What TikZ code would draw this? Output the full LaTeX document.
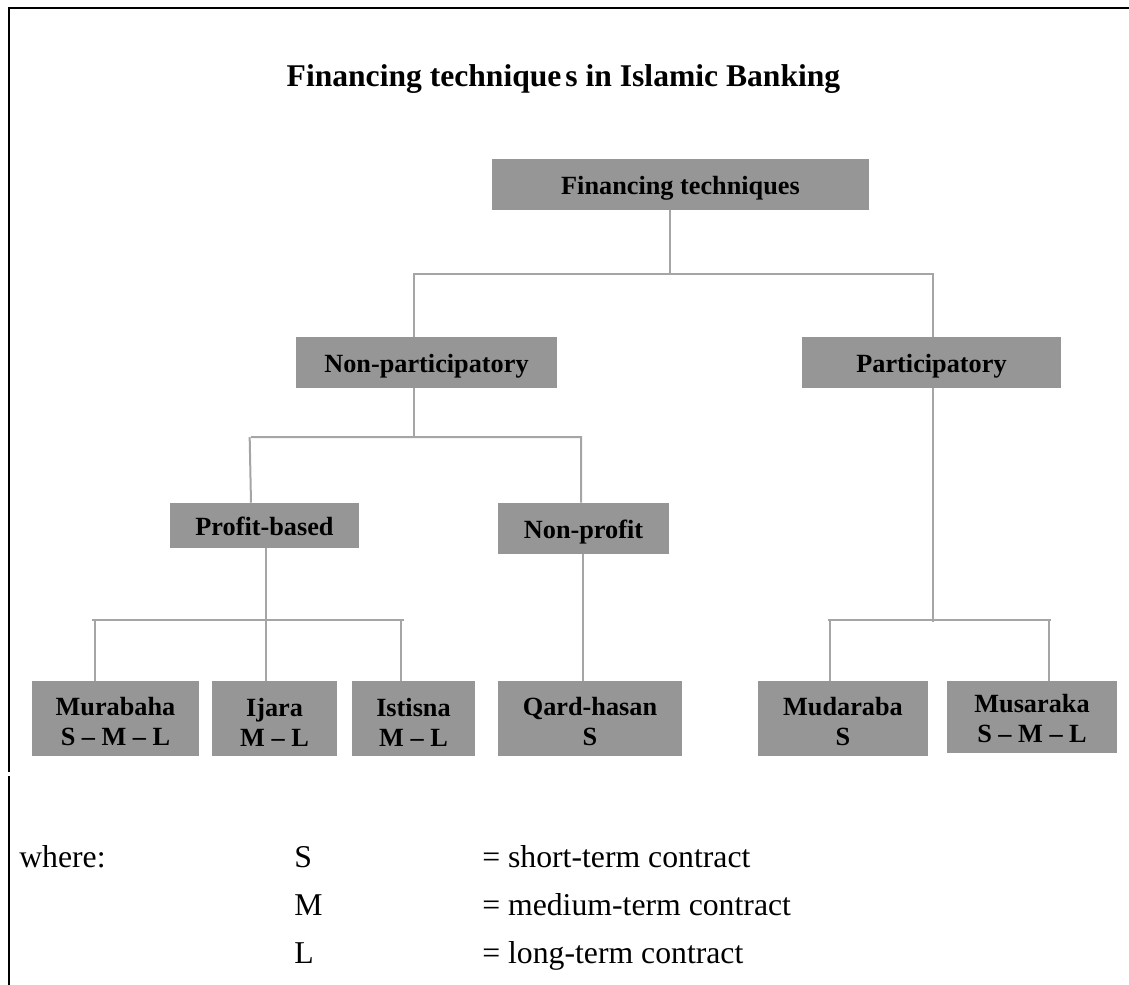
\documentclass[tikz,border=0pt]{standalone}
\usepackage{fontspec}
\setmainfont{Liberation Serif}
\definecolor{boxgray}{RGB}{150,150,150}
\definecolor{linegray}{RGB}{165,165,165}
\tikzset{
  bx/.style 2 args={fill=boxgray, draw=none, inner sep=0pt, minimum width=#1, minimum height=#2},
  conn/.style={draw=linegray, line width=1.5pt},
  lbl/.style={font=\fontsize{19.7pt}{22.5pt}\selectfont\bfseries, inner sep=0pt, text height=13.45pt, text depth=4.27pt},
  lbltwo/.style={font=\fontsize{19.7pt}{22.5pt}\selectfont\bfseries, inner sep=0pt, align=center},
  legend/.style={font=\fontsize{23.8pt}{28pt}\selectfont, inner sep=0pt, anchor=base west},
  frame/.style={draw=black, line width=1.9pt},
}
\begin{document}
\begin{tikzpicture}[x=0.75pt, y=-0.75pt]
\useasboundingbox (0,0) rectangle (1129,985);
% frame
\draw[frame] (9,772) -- (9,8) -- (1129,8);
\draw[frame] (9,776) -- (9,985);
% title
\node[font=\fontsize{23.7pt}{28pt}\selectfont\bfseries, inner sep=0pt, anchor=base] (title) at (563.5,86) {Financing technique\kern3pt s in Islamic Banking};
% boxes
\node[bx={282.75pt}{38.25pt}] (root) at (680.5,184.5) {};
\node[bx={195.75pt}{38.25pt}] (np) at (426.5,362.5) {};
\node[bx={194.25pt}{38.25pt}] (p) at (931.5,362.5) {};
\node[bx={141.75pt}{33.75pt}] (pb) at (264.5,525.5) {};
\node[bx={128.25pt}{38.25pt}] (nonp) at (583.5,528.5) {};
\node[bx={125.25pt}{56.25pt}] (mur) at (115.5,718.5) {};
\node[bx={93.75pt}{56.25pt}] (ija) at (274.5,718.5) {};
\node[bx={92.25pt}{56.25pt}] (ist) at (413.5,718.5) {};
\node[bx={138pt}{56.25pt}] (qh) at (590,718.5) {};
\node[bx={127.5pt}{56.25pt}] (mud) at (843,718.5) {};
\node[bx={127.5pt}{54pt}] (mus) at (1032,717) {};
% labels
\node[lbl] (rootT) at ([yshift=-2.6pt]root.center) {Financing techniques};
\node[lbl] (npT) at ([yshift=-2.6pt]np.center) {Non-participatory};
\node[lbl] (pT) at ([yshift=-2.6pt]p.center) {Participatory};
\node[lbl] (pbT) at ([yshift=-3.2pt]pb.center) {Profit-based};
\node[lbl] (nonpT) at ([yshift=-2.6pt]nonp.center) {Non-profit};
\node[lbltwo] (murT) at ([yshift=-2.6pt]mur.center) {Murabaha\\S – M – L};
\node[lbltwo] (ijaT) at ([yshift=-2.6pt]ija.center) {Ijara\\M – L};
\node[lbltwo] (istT) at ([yshift=-2.6pt]ist.center) {Istisna\\M – L};
\node[lbltwo] (qhT) at ([yshift=-2.6pt]qh.center) {Qard-hasan\\S};
\node[lbltwo] (mudT) at ([yshift=-2.6pt]mud.center) {Mudaraba\\S};
\node[lbltwo] (musT) at ([yshift=-1.1pt]mus.center) {Musaraka\\S – M – L};
% junction coordinates
\coordinate (a1) at (670,274);
\coordinate (a1L) at (414,274);
\coordinate (a1R) at (933,274);
\coordinate (b1) at (414,437);
\coordinate (b1L) at (251,437);
\coordinate (b1R) at (581,437);
\coordinate (c1) at (266,620);
\coordinate (c1L) at (95,620);
\coordinate (c1R) at (401,620);
\coordinate (d1) at (582.5,620);
\coordinate (e1) at (933,620);
\coordinate (e1L) at (830,620);
\coordinate (e1R) at (1049,620);
% connectors
\draw[conn] (root.south -| a1) -- (a1);
\draw[conn] (np.north -| a1L) -- (a1L) -- (a1R) -- (p.north -| a1R);
\draw[conn] (np.south -| b1) -- (b1);
\draw[conn] (pb.north -| b1L) -- ([xshift=-1pt]b1L) (b1L) -- (b1R) -- (nonp.north -| b1R);
\draw[conn] (pb.south -| c1) -- (c1) -- (ija.north -| c1);
\draw[conn] ([xshift=-2.5pt]c1L) -- ([xshift=2pt]c1R);
\draw[conn] (c1L) -- (mur.north -| c1L);
\draw[conn] (c1R) -- (ist.north -| c1R);
\draw[conn] (nonp.south -| d1) -- (qh.north -| d1);
\draw[conn] (p.south -| e1) -- ([yshift=-1.5pt]e1);
\draw[conn] ([xshift=-1.5pt]e1L) -- ([xshift=1.5pt]e1R);
\draw[conn] (e1L) -- (mud.north -| e1L);
\draw[conn] (e1R) -- (mus.north -| e1R);
% legend
\node[legend] (where) at (19,867) {where:};
\node[legend] (lS) at (294,867) {S};
\node[legend] (lM) at (294,915) {M};
\node[legend] (lL) at (294,963) {L};
\node[legend] (dS) at (482,867) {= short-term contract};
\node[legend] (dM) at (482,915) {= medium-term contract};
\node[legend] (dL) at (482,963) {= long-term contract};
\end{tikzpicture}
\end{document}
